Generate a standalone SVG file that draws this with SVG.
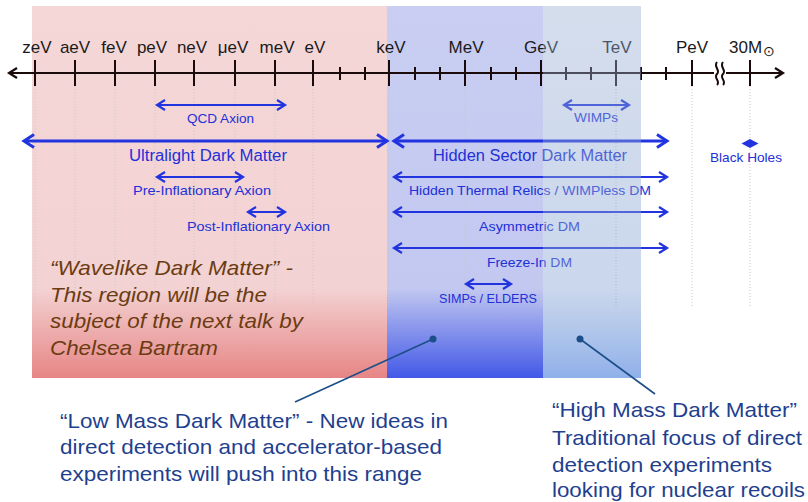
<svg xmlns="http://www.w3.org/2000/svg" width="808" height="502" viewBox="0 0 808 502">
<defs>
<linearGradient id="gPink" x1="0" y1="0" x2="0" y2="1">
<stop offset="0" stop-color="#f5d7d8"/><stop offset="0.76" stop-color="#f3d2d3"/><stop offset="1" stop-color="#e78585"/>
</linearGradient>
<linearGradient id="gBlue" x1="0" y1="0" x2="0" y2="1">
<stop offset="0" stop-color="#c9cef2"/><stop offset="0.76" stop-color="#c2c8f0"/><stop offset="1" stop-color="#4258e7"/>
</linearGradient>
<linearGradient id="gLight" x1="0" y1="0" x2="0" y2="1">
<stop offset="0" stop-color="#93aacf" stop-opacity="0.4"/><stop offset="0.76" stop-color="#8aa6d6" stop-opacity="0.45"/><stop offset="1" stop-color="#5f8ee1" stop-opacity="0.7"/>
</linearGradient>
<marker id="ahT" viewBox="-12 -8 16 16" refX="0" refY="0" markerWidth="16" markerHeight="16" markerUnits="userSpaceOnUse" orient="auto-start-reverse">
<path d="M-10,-6.5 L0,0 L-10,6.5" fill="none" stroke="#2233e0" stroke-width="3"/>
</marker>
<marker id="ah" viewBox="-10 -7 14 14" refX="0" refY="0" markerWidth="14" markerHeight="14" markerUnits="userSpaceOnUse" orient="auto-start-reverse">
<path d="M-8,-5 L0,0 L-8,5" fill="none" stroke="#2233e0" stroke-width="2.2"/>
</marker>
<marker id="ahAx" viewBox="-10 -7 14 14" refX="0" refY="0" markerWidth="14" markerHeight="14" markerUnits="userSpaceOnUse" orient="auto-start-reverse">
<path d="M-8,-5 L0,0 L-8,5" fill="none" stroke="#1a0a0a" stroke-width="2.2"/>
</marker>
</defs>
<style>
.ax{font-family:"Liberation Sans",Arial,sans-serif;font-size:17px;fill:#1a1a1a;text-anchor:middle}
.axs{font-family:"Liberation Sans",Arial,sans-serif;font-size:17px;fill:#1a1a1a;text-anchor:start}
.lb{font-family:"Liberation Sans",Arial,sans-serif;font-size:13px;fill:#2230d8;text-anchor:middle}
.lbB{font-family:"Liberation Sans",Arial,sans-serif;font-size:16px;fill:#2230d8;text-anchor:middle}
.arT{stroke:#2233e0;stroke-width:3;fill:none;marker-start:url(#ahT);marker-end:url(#ahT)}
.ar{stroke:#2233e0;stroke-width:2;fill:none;marker-start:url(#ah);marker-end:url(#ah)}
.tk{stroke:#1a0a0a;stroke-width:2}
.grid{stroke:#c8c8c8;stroke-width:1;stroke-dasharray:1 2}
.wave{font-family:"Liberation Sans",Arial,sans-serif;font-size:21px;font-style:italic;fill:#6b3c12}
.note{font-family:"Liberation Sans",Arial,sans-serif;font-size:21px;fill:#1f3f8f}
.lead{stroke:#1c4f8a;stroke-width:1.6;fill:none}
</style>

<g id="regions">
<rect id="region-wavelike" x="32" y="6" width="355" height="372" fill="url(#gPink)"/>
<rect id="region-lowmass" x="387" y="6" width="156" height="372" fill="url(#gBlue)"/>
</g>

<g id="grid">
<line class="grid" x1="35" y1="86" x2="35" y2="308"/>
<line class="grid" x1="75" y1="86" x2="75" y2="308"/>
<line class="grid" x1="115" y1="86" x2="115" y2="308"/>
<line class="grid" x1="155" y1="86" x2="155" y2="308"/>
<line class="grid" x1="194" y1="86" x2="194" y2="308"/>
<line class="grid" x1="235" y1="86" x2="235" y2="308"/>
<line class="grid" x1="275" y1="86" x2="275" y2="308"/>
<line class="grid" x1="313" y1="86" x2="313" y2="308"/>
<line class="grid" x1="389" y1="86" x2="389" y2="308"/>
<line class="grid" x1="465" y1="86" x2="465" y2="308"/>
<line class="grid" x1="541" y1="86" x2="541" y2="308"/>
<line class="grid" x1="616" y1="86" x2="616" y2="308"/>
<line class="grid" x1="692" y1="86" x2="692" y2="308"/>
<line class="grid" x1="750" y1="86" x2="750" y2="308"/>
</g>

<g id="axis">
<line x1="9" y1="73" x2="783" y2="73" stroke="#1a0a0a" stroke-width="2" marker-start="url(#ahAx)" marker-end="url(#ahAx)"/>
<g class="tk">
<line x1="35" y1="60" x2="35" y2="86"/><line x1="75" y1="60" x2="75" y2="86"/><line x1="115" y1="60" x2="115" y2="86"/>
<line x1="155" y1="60" x2="155" y2="86"/><line x1="194" y1="60" x2="194" y2="86"/><line x1="235" y1="60" x2="235" y2="86"/>
<line x1="275" y1="60" x2="275" y2="86"/><line x1="313" y1="60" x2="313" y2="86"/><line x1="389" y1="60" x2="389" y2="86"/>
<line x1="465" y1="60" x2="465" y2="86"/><line x1="541" y1="60" x2="541" y2="86"/><line x1="616" y1="60" x2="616" y2="86"/>
<line x1="692" y1="60" x2="692" y2="86"/><line x1="750" y1="60" x2="750" y2="86"/>
<line x1="340" y1="67" x2="340" y2="80"/><line x1="365" y1="67" x2="365" y2="80"/>
<line x1="415" y1="67" x2="415" y2="80"/><line x1="440" y1="67" x2="440" y2="80"/>
<line x1="491" y1="67" x2="491" y2="80"/><line x1="516" y1="67" x2="516" y2="80"/>
<line x1="566" y1="67" x2="566" y2="80"/><line x1="591" y1="67" x2="591" y2="80"/>
<line x1="641" y1="67" x2="641" y2="80"/><line x1="666" y1="67" x2="666" y2="80"/>
</g>
<rect x="714" y="64" width="12" height="18" fill="#ffffff"/>
<path d="M717,62 C713,67 721,70 717,74 C713,78 721,81 717,85" fill="none" stroke="#1a0a0a" stroke-width="2"/>
<path d="M723,62 C719,67 727,70 723,74 C719,78 727,81 723,85" fill="none" stroke="#1a0a0a" stroke-width="2"/>
<text class="ax" x="37" y="53">zeV</text>
<text class="ax" x="75" y="53">aeV</text>
<text class="ax" x="114" y="53">feV</text>
<text class="ax" x="152" y="53">peV</text>
<text class="ax" x="192" y="53">neV</text>
<text class="ax" x="233" y="53">μeV</text>
<text class="ax" x="277" y="53">meV</text>
<text class="ax" x="315" y="53">eV</text>
<text class="ax" x="391" y="53">keV</text>
<text class="ax" x="466" y="53">MeV</text>
<text class="ax" x="541" y="53">GeV</text>
<text class="ax" x="617" y="53">TeV</text>
<text class="ax" x="692" y="53">PeV</text>
<text class="axs" x="729" y="53">30M<tspan font-size="14" dy="3" dx="1">⊙</tspan></text>
</g>

<g id="connectors">
<line class="ar" x1="157" y1="105" x2="285" y2="105"/>
<line class="arT" x1="24" y1="141" x2="387" y2="141"/>
<line class="ar" x1="157" y1="177" x2="243" y2="177"/>
<line class="ar" x1="248" y1="212" x2="285" y2="212"/>
<line class="ar" x1="564" y1="105" x2="629" y2="105"/>
<line class="arT" x1="394" y1="141" x2="667" y2="141"/>
<line class="ar" x1="394" y1="177" x2="667" y2="177"/>
<line class="ar" x1="394" y1="212" x2="667" y2="212"/>
<line class="ar" x1="394" y1="248" x2="667" y2="248"/>
<line class="ar" x1="466" y1="284" x2="511" y2="284"/>
</g>

<g id="qcd-axion"><text class="lb" x="220.5" y="122.5" textLength="67" lengthAdjust="spacingAndGlyphs">QCD Axion</text></g>
<g id="ultralight-dm"><text class="lbB" x="208" y="161" textLength="158" lengthAdjust="spacingAndGlyphs">Ultralight Dark Matter</text></g>
<g id="pre-inflationary-axion"><text class="lb" x="202" y="194.5" textLength="138" lengthAdjust="spacingAndGlyphs">Pre-Inflationary Axion</text></g>
<g id="post-inflationary-axion"><text class="lb" x="258.5" y="230.5" textLength="143" lengthAdjust="spacingAndGlyphs">Post-Inflationary Axion</text></g>
<g id="wimps"><text class="lb" x="596" y="121.5" textLength="44" lengthAdjust="spacingAndGlyphs">WIMPs</text></g>
<g id="hidden-sector-dm"><text class="lbB" x="530" y="161" textLength="194" lengthAdjust="spacingAndGlyphs">Hidden Sector Dark Matter</text></g>
<g id="hidden-thermal-relics"><text class="lb" x="530" y="194.5" textLength="242" lengthAdjust="spacingAndGlyphs">Hidden Thermal Relics / WIMPless DM</text></g>
<g id="asymmetric-dm"><text class="lb" x="529.5" y="230.5" textLength="101" lengthAdjust="spacingAndGlyphs">Asymmetric DM</text></g>
<g id="freeze-in-dm"><text class="lb" x="529.5" y="266.5" textLength="85" lengthAdjust="spacingAndGlyphs">Freeze-In DM</text></g>
<g id="simps-elders"><text class="lb" x="488" y="302.5" textLength="98" lengthAdjust="spacingAndGlyphs">SIMPs / ELDERS</text></g>
<g id="black-holes">
<polygon points="741.5,143.5 750,139 758.5,143.5 750,148" fill="#2233e0"/>
<text class="lb" x="746" y="162" textLength="72" lengthAdjust="spacingAndGlyphs">Black Holes</text>
</g>

<g id="region-highmass">
<rect x="543" y="6" width="98" height="372" fill="url(#gLight)"/>
</g>

<g id="wavelike-note">
<text class="wave" x="50" y="275" textLength="243" lengthAdjust="spacingAndGlyphs">“Wavelike Dark Matter” -</text>
<text class="wave" x="50" y="302" textLength="217" lengthAdjust="spacingAndGlyphs">This region will be the</text>
<text class="wave" x="50" y="328" textLength="253" lengthAdjust="spacingAndGlyphs">subject of the next talk by</text>
<text class="wave" x="50" y="355" textLength="168" lengthAdjust="spacingAndGlyphs">Chelsea Bartram</text>
</g>

<g id="lowmass-note">
<line class="lead" x1="433" y1="339" x2="295" y2="402"/>
<circle cx="433" cy="339" r="3.5" fill="#1c4f8a"/>
<text class="note" x="60" y="428" textLength="388" lengthAdjust="spacingAndGlyphs">“Low Mass Dark Matter” - New ideas in</text>
<text class="note" x="60" y="454" textLength="382" lengthAdjust="spacingAndGlyphs">direct detection and accelerator-based</text>
<text class="note" x="60" y="481" textLength="362" lengthAdjust="spacingAndGlyphs">experiments will push into this range</text>
</g>

<g id="highmass-note">
<line class="lead" x1="580" y1="339" x2="655" y2="394"/>
<circle cx="580" cy="339" r="3.5" fill="#1c4f8a"/>
<text class="note" x="552" y="417" textLength="245" lengthAdjust="spacingAndGlyphs">“High Mass Dark Matter”</text>
<text class="note" x="552" y="445" textLength="250" lengthAdjust="spacingAndGlyphs">Traditional focus of direct</text>
<text class="note" x="552" y="472" textLength="220" lengthAdjust="spacingAndGlyphs">detection experiments</text>
<text class="note" x="552" y="497" textLength="253" lengthAdjust="spacingAndGlyphs">looking for nuclear recoils</text>
</g>
</svg>
